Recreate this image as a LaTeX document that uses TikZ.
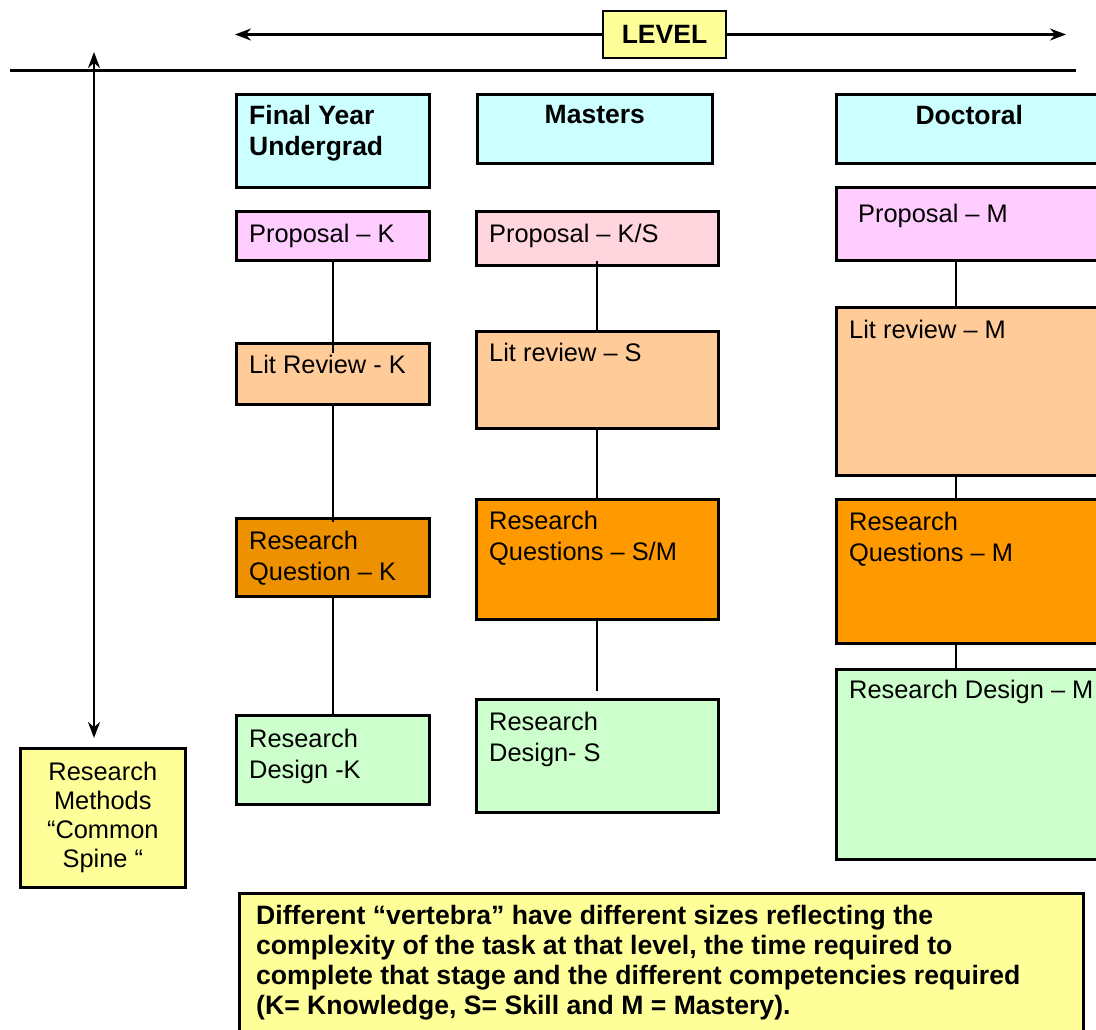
\documentclass[tikz,border=0pt]{standalone}
\usepackage{fontspec}
\setmainfont{Liberation Sans}
\usetikzlibrary{arrows.meta,calc}
\definecolor{hdr}{HTML}{CCFFFF}
\definecolor{propk}{HTML}{FFCCFF}
\definecolor{props}{HTML}{FFD6DE}
\definecolor{lit}{HTML}{FFCC99}
\definecolor{rqk}{HTML}{EE9100}
\definecolor{rqm}{HTML}{FF9900}
\definecolor{rd}{HTML}{CCFFCC}
\definecolor{yel}{HTML}{FFFF99}
\begin{document}
\begin{tikzpicture}[x=1pt,y=-1pt,
  box/.style={draw=black,line width=2.6pt,inner sep=0pt,anchor=north west},
  txt/.style={inner sep=0pt,anchor=north west,align=left,font=\fontsize{25.4}{30.5}\selectfont},
  btxt/.style={inner sep=0pt,anchor=north west,align=left,font=\bfseries\fontsize{26.5}{31}\selectfont},
  conn/.style={line width=1.8pt},
  arr/.style={line width=2.2pt}]
\clip (0,0) rectangle (1096,1030);
\fill[white] (0,0) rectangle (1096,1030);

% level arrow and header line
\node[box,anchor=center,fill=yel,minimum width=123pt,minimum height=47pt,font=\bfseries\fontsize{26.5}{30}\selectfont] (lvl) at (664.5,34.5) {LEVEL};
\coordinate (la) at (235,34.5);
\coordinate (ra) at (1066,34.5);
\draw[arr,-{Stealth[length=16pt,width=12pt]}] (lvl.west) -- (la);
\draw[arr,-{Stealth[length=16pt,width=12pt]}] (lvl.east) -- (ra);
\coordinate (hl) at (10,71);
\coordinate (hr) at (1076,71);
\draw[line width=3pt] (hl) -- (hr);

% vertical spine arrow
\coordinate (vt) at (94,52);
\coordinate (vb) at (94,738);
\draw[arr,{Stealth[length=16pt,width=12pt]}-{Stealth[length=16pt,width=12pt]}] (vt) -- (vb);

% research methods box
\node[box,fill=yel,minimum width=165pt,minimum height=139pt] (rm) at (19,747) {};
\node[inner sep=0pt,anchor=north,align=center,font=\fontsize{25.4}{29}\selectfont] (rmt) at ($(rm.north)+(0,15)$) {Research\\Methods\\“Common\\Spine “};

% headers
\node[box,fill=hdr,minimum width=193pt,minimum height=93pt] (fy) at (235,93) {};
\node[btxt] (fyt) at ($(fy.north west)+(14,12)$) {Final Year\\Undergrad};
\node[box,fill=hdr,minimum width=235pt,minimum height=69pt] (ms) at (476,93) {};
\node[btxt,anchor=north] (mst) at ($(ms.north)+(0,12)$) {Masters};
\node[box,fill=hdr,minimum width=266pt,minimum height=69pt] (dc) at (835,93) {};
\node[btxt,anchor=north] (dct) at ($(dc.north)+(0,12)$) {Doctoral};

% column 1: final year undergrad
\node[box,fill=propk,minimum width=193pt,minimum height=49pt] (pk) at (235,210) {};
\node[box,fill=lit,minimum width=193pt,minimum height=61pt] (lk) at (235,342) {};
\node[box,fill=rqk,minimum width=193pt,minimum height=78pt] (qk) at (235,517) {};
\node[box,fill=rd,minimum width=193pt,minimum height=89pt] (dk) at (235,714) {};
\draw[conn] (pk.south) -- ($(lk.north)+(0,11)$);
\draw[conn] (lk.south) -- ($(qk.north)+(0,5)$);
\draw[conn] (qk.south) -- (dk.north);
\node[txt] (pkt) at ($(pk.north west)+(14,14)$) {Proposal – K};
\node[txt] (lkt) at ($(lk.north west)+(14,13)$) {Lit Review - K};
\node[txt] (qkt) at ($(qk.north west)+(14,14)$) {Research\\Question – K};
\node[txt] (dkt) at ($(dk.north west)+(14,15)$) {Research\\Design -K};

% column 2: masters
\node[box,fill=props,minimum width=242pt,minimum height=54pt] (pm) at (475,210) {};
\node[box,fill=lit,minimum width=242pt,minimum height=97pt] (lm) at (475,330) {};
\node[box,fill=rqm,minimum width=242pt,minimum height=120pt] (qm) at (475,498) {};
\node[box,fill=rd,minimum width=242pt,minimum height=113pt] (dm) at (475,698) {};
\draw[conn] ($(pm.south)+(0,-6)$) -- (lm.north);
\draw[conn] (lm.south) -- (qm.north);
\draw[conn] (qm.south) -- ($(dm.north)+(0,-7)$);
\node[txt] (pmt) at ($(pm.north west)+(14,14)$) {Proposal – K/S};
\node[txt] (lmt) at ($(lm.north west)+(14,13)$) {Lit review – S};
\node[txt] (qmt) at ($(qm.north west)+(14,13)$) {Research\\Questions – S/M};
\node[txt] (dmt) at ($(dm.north west)+(14,14)$) {Research\\Design- S};

% column 3: doctoral
\coordinate (dx) at (956,0);
\node[box,fill=propk,minimum width=266pt,minimum height=73pt] (pd) at (835,186) {};
\node[box,fill=lit,minimum width=266pt,minimum height=168pt] (ld) at (835,306) {};
\node[box,fill=rqm,minimum width=266pt,minimum height=144pt] (qd) at (835,498) {};
\node[box,fill=rd,minimum width=266pt,minimum height=190pt] (dd) at (835,668) {};
\draw[conn] (pd.south -| dx) -- (ld.north -| dx);
\draw[conn] (ld.south -| dx) -- (qd.north -| dx);
\draw[conn] (qd.south -| dx) -- (dd.north -| dx);
\node[txt] (pdt) at ($(pd.north west)+(23,18)$) {Proposal – M};
\node[txt] (ldt) at ($(ld.north west)+(14,14)$) {Lit review – M};
\node[txt] (qdt) at ($(qd.north west)+(14,14)$) {Research\\Questions – M};
\node[txt] (ddt) at ($(dd.north west)+(14,12)$) {Research Design – M};

% note box
\node[box,fill=yel,minimum width=844pt,minimum height=160pt] (nb) at (238,892) {};
\node[btxt,font=\bfseries\fontsize{26.6}{30}\selectfont] (nbt) at ($(nb.north west)+(18,13)$) {Different “vertebra” have different sizes reflecting the\\complexity of the task at that level, the time required to\\complete that stage and the different competencies required\\(K= Knowledge, S= Skill and M = Mastery).};
\end{tikzpicture}
\end{document}
